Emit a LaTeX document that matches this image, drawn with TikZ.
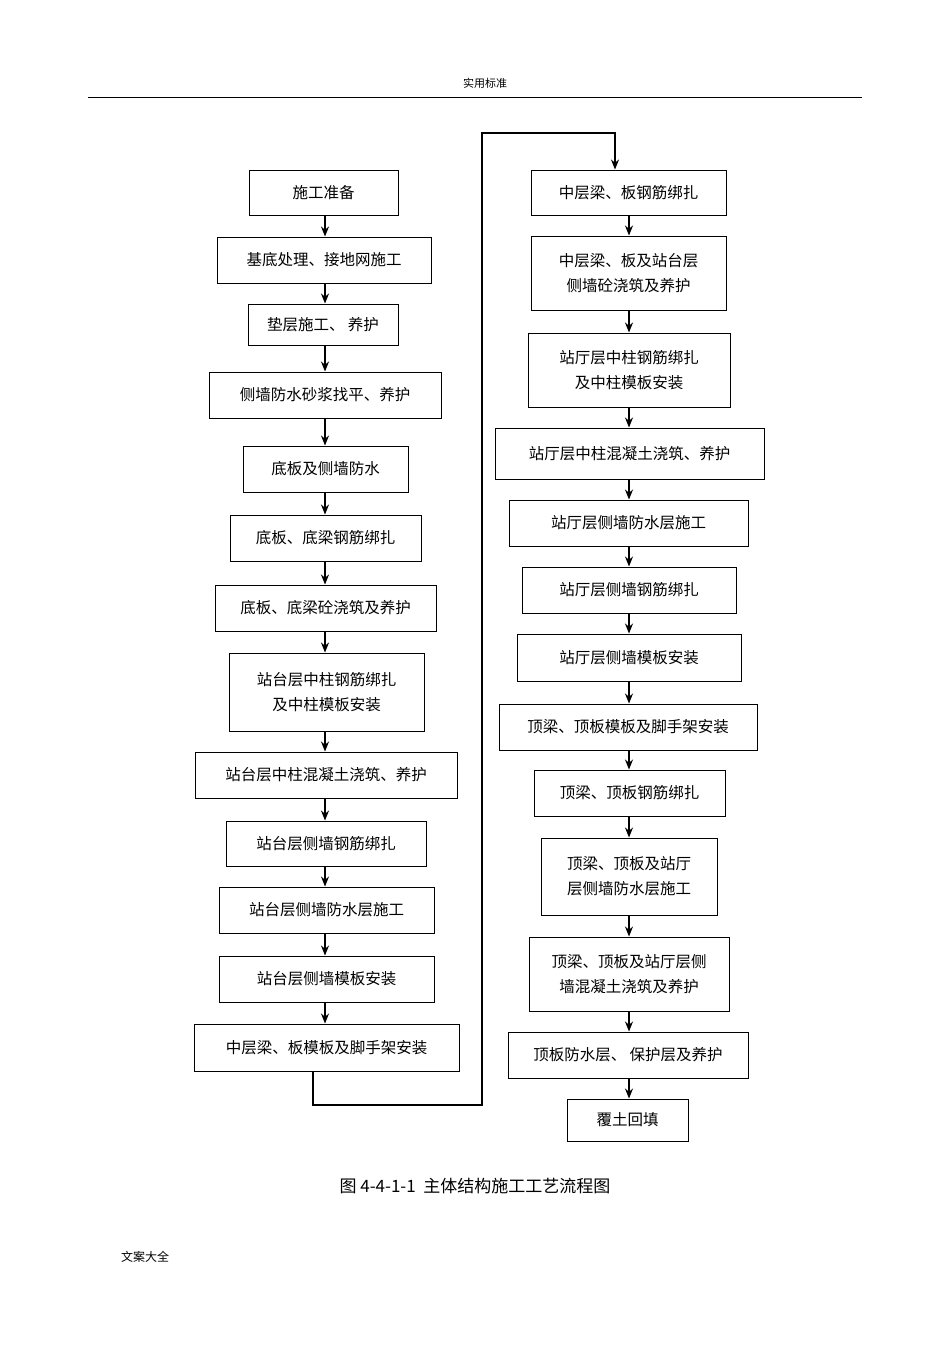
\documentclass[tikz,border=0pt]{standalone}
\usepackage{fontspec}
\usetikzlibrary{arrows.meta}
\setmainfont{Noto Sans CJK SC}
\begin{document}
\begin{tikzpicture}[x=1pt,y=-1pt,
  box/.style={draw,line width=1pt,inner sep=0pt,align=center,font=\fontsize{15.5}{25}\selectfont},
  arr/.style={-{Stealth[length=10pt,width=8pt]},line width=1.2pt}]
\useasboundingbox (0,0) rectangle (950,1345);
\newcommand\bx[6]{\node[box,minimum width={#4-#2},minimum height={#5-#3}] (#1) at ({(#2+#4)/2},{(#3+#5)/2}) {#6};}
\node[font=\fontsize{11}{13}\selectfont] (hd) at (485,83) {实用标准};
\draw[line width=0.7pt] (88,97) -- (862,97);
\bx{l1}{249}{170}{398}{215}{施工准备}
\bx{l2}{217}{237}{431}{283}{基底处理、接地网施工}
\bx{l3}{248}{304}{398}{345}{垫层施工、 养护}
\bx{l4}{209}{372}{441}{418}{侧墙防水砂浆找平、养护}
\bx{l5}{243}{446}{408}{492}{底板及侧墙防水}
\bx{l6}{230}{515}{421}{561}{底板、底梁钢筋绑扎}
\bx{l7}{215}{585}{436}{631}{底板、底梁砼浇筑及养护}
\bx{l8}{229}{653}{424}{731}{站台层中柱钢筋绑扎\\及中柱模板安装}
\bx{l9}{195}{752}{457}{798}{站台层中柱混凝土浇筑、养护}
\bx{l10}{226}{821}{426}{866}{站台层侧墙钢筋绑扎}
\bx{l11}{219}{887}{434}{933}{站台层侧墙防水层施工}
\bx{l12}{219}{956}{434}{1002}{站台层侧墙模板安装}
\bx{l13}{194}{1024}{459}{1071}{中层梁、板模板及脚手架安装}
\bx{r1}{531}{170}{726}{215}{中层梁、板钢筋绑扎}
\bx{r2}{531}{236}{726}{310}{中层梁、板及站台层\\侧墙砼浇筑及养护}
\bx{r3}{528}{333}{730}{407}{站厅层中柱钢筋绑扎\\及中柱模板安装}
\bx{r4}{495}{428}{764}{479}{站厅层中柱混凝土浇筑、养护}
\bx{r5}{509}{500}{748}{546}{站厅层侧墙防水层施工}
\bx{r6}{522}{567}{736}{613}{站厅层侧墙钢筋绑扎}
\bx{r7}{517}{634}{741}{681}{站厅层侧墙模板安装}
\bx{r8}{499}{704}{757}{750}{顶梁、顶板模板及脚手架安装}
\bx{r9}{534}{770}{725}{816}{顶梁、顶板钢筋绑扎}
\bx{r10}{541}{838}{717}{915}{顶梁、顶板及站厅\\层侧墙防水层施工}
\bx{r11}{529}{937}{729}{1011}{顶梁、顶板及站厅层侧\\墙混凝土浇筑及养护}
\bx{r12}{508}{1032}{748}{1078}{顶板防水层、 保护层及养护}
\bx{r13}{567}{1099}{688}{1141}{覆土回填}
\coordinate (cl) at (325,0);
\coordinate (cr) at (629,0);
\foreach \a/\b in {1/2,2/3,3/4,4/5,5/6,6/7,7/8,8/9,9/10,10/11,11/12,12/13}{
  \draw[arr] (l\a.south -| cl) -- (l\b.north -| cl);
  \draw[arr] (r\a.south -| cr) -- (r\b.north -| cr);}
\coordinate (t1) at (313,1105);
\coordinate (t2) at (482,1105);
\coordinate (t3) at (482,133);
\coordinate (t4) at (615,133);
\draw[arr] (l13.south -| t1) -- (t1) -- (t2) -- (t3) -- (t4) -- (r1.north -| t4);
\node[font=\fontsize{17}{19}\selectfont] (cap) at (475,1186) {图 4-4-1-1\ \ 主体结构施工工艺流程图};
\node[font=\fontsize{12}{14}\selectfont] (ft) at (145,1257) {文案大全};
\end{tikzpicture}
\end{document}
